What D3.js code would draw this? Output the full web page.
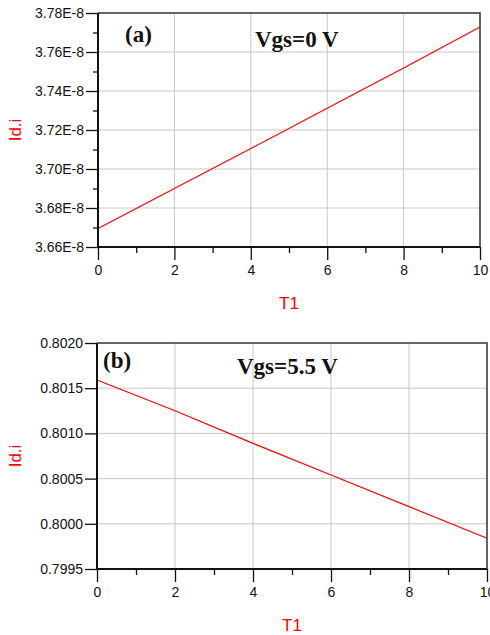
<!DOCTYPE html>
<html>
<head>
<meta charset="utf-8">
<script src="https://cdn.jsdelivr.net/npm/d3@7"></script>
<style>
  html, body { margin: 0; padding: 0; background: #fff; }
  svg { display: block; }
</style>
</head>
<body>
<svg id="chart" width="490" height="635"></svg>
<script>
// Drain current Id.i versus temperature sweep T1, at two gate biases
const t1Values = [0, 2, 4, 6, 8, 10];
const idVgs0 = [3.6695e-8, 3.6900e-8, 3.7105e-8, 3.7312e-8, 3.7518e-8, 3.7728e-8];
const idVgs55 = [0.80159, 0.80125, 0.80089, 0.80054, 0.80019, 0.79984];

const xTicks = [0, 2, 4, 6, 8, 10];
const xMinorTicks = [1, 3, 5, 7, 9];
const yTicksA = [3.66e-8, 3.68e-8, 3.70e-8, 3.72e-8, 3.74e-8, 3.76e-8, 3.78e-8];
const yMinorTicksA = [3.67e-8, 3.69e-8, 3.71e-8, 3.73e-8, 3.75e-8, 3.77e-8];
const yTicksB = [0.7995, 0.8000, 0.8005, 0.8010, 0.8015, 0.8020];

const panels = [
  {
    x: t1Values, y: idVgs0,
    box: { left: 98, top: 13, right: 480, bottom: 247 },
    yDomain: [3.66e-8, 3.78e-8], yTicks: yTicksA, yMinor: yMinorTicksA,
    yFormat: v => (v * 1e8).toFixed(2) + "E-8",
    tag: "(a)", tagPos: [125, 42],
    bias: "Vgs=0 V", biasPos: [255, 47],
    xLabelY: 309
  },
  {
    x: t1Values, y: idVgs55,
    box: { left: 97, top: 343, right: 487, bottom: 569 },
    yDomain: [0.7995, 0.8020], yTicks: yTicksB, yMinor: [],
    yFormat: d3.format(".4f"),
    tag: "(b)", tagPos: [103, 368],
    bias: "Vgs=5.5 V", biasPos: [237, 374],
    xLabelY: 631
  }
];

const svg = d3.select("#chart");

function styleTickText(s) {
  s.attr("font-family", "Liberation Sans, Arial, sans-serif").attr("font-size", 14);
  s.selectAll(".tick text").attr("fill", "#111");
}

panels.forEach(p => {
  const b = p.box;
  const x = d3.scaleLinear().domain([0, 10]).range([b.left, b.right]);
  const y = d3.scaleLinear().domain(p.yDomain).range([b.bottom, b.top]);
  const g = svg.append("g");

  // grid
  g.append("g").selectAll("line").data(xTicks.slice(1, -1)).join("line")
    .attr("x1", d => x(d)).attr("x2", d => x(d))
    .attr("y1", b.top).attr("y2", b.bottom)
    .attr("stroke", "#c8c8c8").attr("stroke-width", 1);
  g.append("g").selectAll("line").data(p.yTicks.slice(1, -1)).join("line")
    .attr("y1", d => y(d)).attr("y2", d => y(d))
    .attr("x1", b.left).attr("x2", b.right)
    .attr("stroke", "#c8c8c8").attr("stroke-width", 1);

  // frame (top/right)
  g.append("path")
    .attr("d", `M${b.left},${b.top}H${b.right}V${b.bottom}`)
    .attr("fill", "none").attr("stroke", "#333").attr("stroke-width", 1.5);

  // data line
  g.append("path")
    .datum(p.x.map((t, i) => [t, p.y[i]]))
    .attr("fill", "none").attr("stroke", "#ff0000").attr("stroke-width", 1.2)
    .attr("d", d3.line().x(d => x(d[0])).y(d => y(d[1])));

  // minor ticks
  g.append("g").attr("transform", `translate(0,${b.bottom})`)
    .call(d3.axisBottom(x).tickValues(xMinorTicks).tickSize(6).tickFormat(""))
    .call(s => s.select(".domain").remove())
    .call(s => s.selectAll("line").attr("stroke", "#111").attr("stroke-width", 1.3));
  if (p.yMinor.length) {
    g.append("g").attr("transform", `translate(${b.left},0)`)
      .call(d3.axisLeft(y).tickValues(p.yMinor).tickSize(5).tickFormat(""))
      .call(s => s.select(".domain").remove())
      .call(s => s.selectAll("line").attr("stroke", "#111").attr("stroke-width", 1.3));
  }

  // major axes
  g.append("g").attr("transform", `translate(0,${b.bottom})`)
    .call(d3.axisBottom(x).tickValues(xTicks).tickSize(13).tickPadding(5).tickFormat(d3.format("d")))
    .call(styleTickText)
    .call(s => s.select(".domain").attr("stroke", "#111").attr("stroke-width", 2).attr("d", `M${b.left},0H${b.right}`))
    .call(s => s.selectAll(".tick line").attr("stroke", "#111").attr("stroke-width", 1.3));
  g.append("g").attr("transform", `translate(${b.left},0)`)
    .call(d3.axisLeft(y).tickValues(p.yTicks).tickSize(12).tickPadding(2).tickFormat(p.yFormat))
    .call(styleTickText)
    .call(s => s.select(".domain").attr("stroke", "#111").attr("stroke-width", 2).attr("d", `M0,${b.top}V${b.bottom}`))
    .call(s => s.selectAll(".tick line").attr("stroke", "#111").attr("stroke-width", 1.3));

  // axis titles
  g.append("text")
    .attr("x", (b.left + b.right) / 2).attr("y", p.xLabelY)
    .attr("text-anchor", "middle")
    .attr("font-family", "Liberation Sans, Arial, sans-serif").attr("font-size", 17)
    .attr("fill", "#ff0000").text("T1");
  g.append("text")
    .attr("transform", `translate(21,${(b.top + b.bottom) / 2}) rotate(-90)`)
    .attr("text-anchor", "middle")
    .attr("font-family", "Liberation Sans, Arial, sans-serif").attr("font-size", 17)
    .attr("fill", "#ff0000").text("Id.i");

  // panel tag and bias annotation
  g.append("text").attr("x", p.tagPos[0]).attr("y", p.tagPos[1])
    .attr("font-family", "Liberation Serif, Times New Roman, serif")
    .attr("font-weight", "bold").attr("font-size", 23).attr("fill", "#111").text(p.tag);
  g.append("text").attr("x", p.biasPos[0]).attr("y", p.biasPos[1])
    .attr("font-family", "Liberation Serif, Times New Roman, serif")
    .attr("font-weight", "bold").attr("font-size", 23).attr("fill", "#111").text(p.bias);
});
</script>
</body>
</html>
